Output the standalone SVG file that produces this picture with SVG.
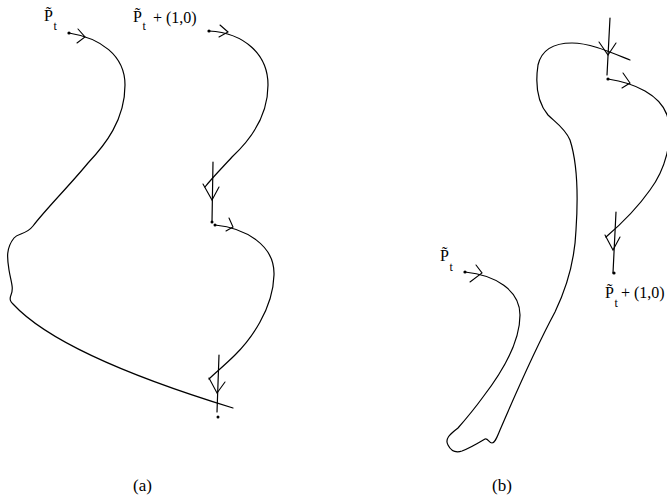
<svg xmlns="http://www.w3.org/2000/svg" width="667" height="502" viewBox="0 0 667 502">
<style>
.c{fill:none;stroke:#000;stroke-width:1.2;stroke-linecap:round;stroke-linejoin:round}
.ah{fill:none;stroke:#000;stroke-width:1.1;stroke-linecap:round;stroke-linejoin:miter}
.d{fill:#000}
text{font-family:"Liberation Serif","Times New Roman",serif;fill:#000;font-size:16px}
.s{font-size:12px}
.cap{font-size:17px}
</style>
<rect width="667" height="502" fill="#fff"/>
<g id="connectors">
<!-- (a) -->
<path class="c" d="M69,33 C100,38 125,55 125,85 C125,120 105,145 88,163 C70,185 45,210 33,226 C26,235 18,233 14,238 C6,248 7,258 9,270 C11,282 14,288 11,295 C9,300 11,302 13,304 Q60,355 233,408"/>
<polyline class="ah" points="78,29 85,37 77,43"/>
<path class="c" d="M209,31 C245,33 268,55 268,85 C268,120 245,145 232,157 C222,168 212,178 205,187"/>
<polyline class="ah" points="220,25 228,32 219,37"/>
<line class="c" x1="213" y1="162" x2="212" y2="222"/>
<polyline class="ah" points="203,184 212,200 219,187"/>
<path class="c" d="M215,225 C245,228 275,245 274,275 C273,310 250,340 235,355 C225,365 215,373 209,379"/>
<polyline class="ah" points="229,218 233,227 226,231"/>
<line class="c" x1="219" y1="355" x2="217" y2="412"/>
<polyline class="ah" points="209,378 217,393 225,382"/>
<!-- (b) -->
<path class="c" d="M465,272 C495,275 520,290 520,315 C520,345 500,375 483,397 C475,408 465,420 458,428 C452,433 444,438 448,445 C451,451 456,453 462,451 C470,448 480,442 485,439 C488,438 489,443 492,443 C495,443 497,437 500,430 C515,395 540,340 555,312 C568,285 575,255 576,230 C578,200 578,165 570,140 C565,128 555,122 548,115 C538,103 535,85 538,65 C542,48 555,43 572,43 C590,43 610,52 630,60"/>
<polyline class="ah" points="476,265 482,273 470,282"/>
<line class="c" x1="610" y1="18" x2="607" y2="75"/>
<polyline class="ah" points="599,42 608,55 616,43"/>
<path class="c" d="M608,79 C635,83 660,95 667,115 C674,140 665,170 650,190 C638,207 620,225 606,237"/>
<polyline class="ah" points="623,73 630,83 622,88"/>
<line class="c" x1="616" y1="212" x2="613" y2="273"/>
<polyline class="ah" points="605,235 613,250 620,237"/>
</g>
<g id="node-a-start">
<circle class="d" cx="69" cy="33" r="1.6"/>
<text x="44" y="21">P&#x303;<tspan class="s" x="53.5" y="30">t</tspan></text>
</g>
<g id="node-a-shift">
<circle class="d" cx="209" cy="31" r="1.6"/>
<text x="133" y="22">P&#x303;<tspan class="s" x="142.5" y="30">t</tspan><tspan x="153" y="23">+ (1,0)</tspan></text>
</g>
<g id="node-a-mid">
<circle class="d" cx="212" cy="222" r="1.5"/>
<circle class="d" cx="215" cy="225" r="1.5"/>
</g>
<g id="node-a-end">
<circle class="d" cx="218" cy="417" r="1.5"/>
</g>
<g id="node-b-start">
<circle class="d" cx="465" cy="272" r="1.6"/>
<text x="440" y="261">P&#x303;<tspan class="s" x="449.5" y="271">t</tspan></text>
</g>
<g id="node-b-top">
<circle class="d" cx="608" cy="79" r="1.6"/>
</g>
<g id="node-b-shift">
<circle class="d" cx="614" cy="273" r="1.6"/>
<text x="605" y="298">P&#x303;<tspan class="s" x="614.5" y="307">t</tspan><tspan x="621" y="298">+ (1,0)</tspan></text>
</g>
<g id="captions">
<text class="cap" x="133" y="491">(a)</text>
<text class="cap" x="492" y="491">(b)</text>
</g>
</svg>
